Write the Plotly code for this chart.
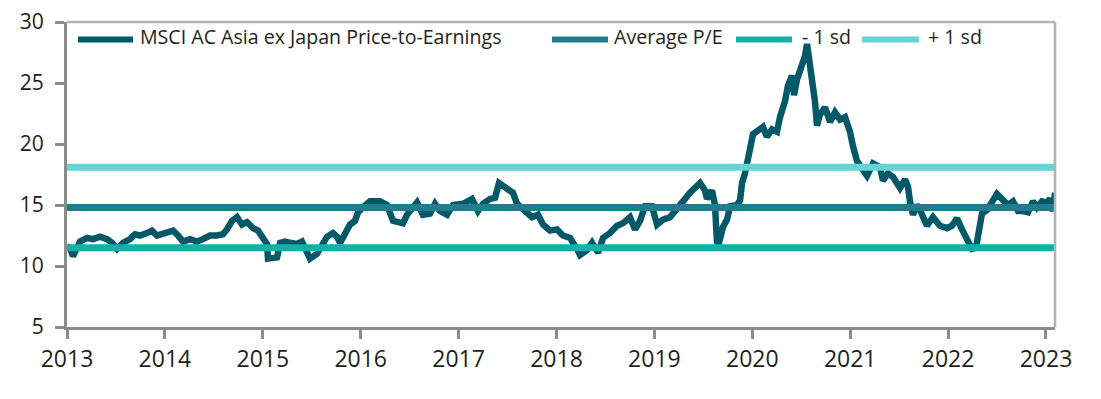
import plotly.graph_objects as go

# Decimal-year positions and P/E values
years = [
    2013.000, 2013.031, 2013.061, 2013.133, 2013.204, 2013.266, 2013.337, 2013.409, 2013.460, 2013.511,
    2013.572, 2013.644, 2013.695, 2013.746, 2013.817, 2013.868, 2013.919, 2013.981, 2014.083, 2014.134,
    2014.185, 2014.256, 2014.328, 2014.389, 2014.461, 2014.532, 2014.593, 2014.634, 2014.685, 2014.736,
    2014.788, 2014.839, 2014.900, 2014.951, 2015.002, 2015.043, 2015.053, 2015.145, 2015.176, 2015.227,
    2015.278, 2015.349, 2015.400, 2015.451, 2015.482, 2015.554, 2015.605, 2015.656, 2015.717, 2015.758,
    2015.789, 2015.840, 2015.891, 2015.942, 2015.972, 2016.023, 2016.095, 2016.197, 2016.269, 2016.330,
    2016.381, 2016.432, 2016.473, 2016.575, 2016.636, 2016.708, 2016.759, 2016.810, 2016.882, 2016.943,
    2017.045, 2017.137, 2017.198, 2017.249, 2017.321, 2017.372, 2017.413, 2017.494, 2017.556, 2017.597,
    2017.658, 2017.750, 2017.811, 2017.862, 2017.934, 2018.005, 2018.066, 2018.138, 2018.209, 2018.240,
    2018.312, 2018.363, 2018.424, 2018.475, 2018.546, 2018.618, 2018.679, 2018.751, 2018.802, 2018.853,
    2018.904, 2018.975, 2019.027, 2019.088, 2019.159, 2019.231, 2019.292, 2019.364, 2019.466, 2019.517,
    2019.537, 2019.588, 2019.619, 2019.639, 2019.660, 2019.701, 2019.742, 2019.773, 2019.844, 2019.875,
    2019.895, 2019.926, 2019.946, 2019.977, 2020.007, 2020.048, 2020.109, 2020.150, 2020.201, 2020.252,
    2020.283, 2020.334, 2020.365, 2020.406, 2020.426, 2020.457, 2020.508, 2020.538, 2020.559, 2020.590,
    2020.610, 2020.640, 2020.661, 2020.691, 2020.743, 2020.794, 2020.845, 2020.896, 2020.947, 2020.998,
    2021.029, 2021.070, 2021.121, 2021.172, 2021.233, 2021.304, 2021.335, 2021.386, 2021.437, 2021.509,
    2021.560, 2021.590, 2021.611, 2021.641, 2021.682, 2021.713, 2021.784, 2021.846, 2021.917, 2021.989,
    2022.040, 2022.091, 2022.142, 2022.193, 2022.244, 2022.285, 2022.316, 2022.346, 2022.397, 2022.459,
    2022.499, 2022.561, 2022.612, 2022.663, 2022.714, 2022.765, 2022.816, 2022.867, 2022.908, 2022.959,
    2023.010, 2023.041, 2023.072, 2023.092,
]
pe = [
    11.6, 11.5, 10.8, 12.0, 12.3, 12.2, 12.4, 12.2, 11.9, 11.4,
    11.9, 12.2, 12.6, 12.5, 12.7, 12.9, 12.5, 12.7, 12.9, 12.5,
    12.0, 12.2, 12.0, 12.2, 12.5, 12.5, 12.6, 13.0, 13.7, 14.0,
    13.4, 13.6, 13.1, 12.9, 12.3, 11.8, 10.6, 10.7, 11.9, 12.0,
    11.9, 11.8, 12.0, 11.0, 10.6, 11.0, 11.6, 12.4, 12.7, 12.4,
    11.9, 12.7, 13.4, 13.7, 14.4, 14.8, 15.3, 15.3, 15.0, 13.7,
    13.6, 13.5, 14.2, 15.2, 14.2, 14.3, 15.1, 14.5, 14.2, 15.0,
    15.1, 15.5, 14.5, 15.1, 15.5, 15.6, 16.8, 16.4, 16.0, 15.1,
    14.6, 14.0, 14.2, 13.4, 12.9, 13.0, 12.5, 12.3, 11.4, 10.9,
    11.3, 11.9, 11.1, 12.3, 12.7, 13.3, 13.5, 14.0, 13.0, 13.7,
    14.9, 14.9, 13.4, 13.8, 14.0, 14.6, 15.3, 16.0, 16.8, 16.2,
    15.5, 16.2, 15.0, 12.0, 11.9, 13.2, 13.8, 14.9, 15.0, 15.4,
    16.8, 17.6, 18.7, 19.6, 20.8, 21.0, 21.4, 20.6, 21.2, 21.0,
    22.2, 23.5, 24.8, 25.6, 24.0, 25.3, 26.6, 27.2, 28.2, 26.5,
    24.5, 23.5, 21.5, 22.4, 23.0, 21.8, 22.6, 22.0, 22.2, 21.0,
    19.8, 18.6, 18.0, 17.4, 18.4, 18.1, 17.0, 17.6, 17.3, 16.4,
    17.1, 16.5, 15.3, 14.2, 15.0, 14.6, 13.3, 14.0, 13.3, 13.1,
    13.3, 13.9, 13.0, 12.1, 11.4, 11.5, 13.0, 14.3, 14.6, 15.3,
    15.9, 15.4, 15.0, 15.3, 14.5, 14.5, 14.4, 15.3, 14.8, 15.3,
    15.2, 15.5, 14.5, 16.0,
]

x_start, x_end = 2013.0, 2023.092
avg_pe = 14.8
minus_1sd = 11.5
plus_1sd = 18.1

tick_years = list(range(2013, 2024))
y_ticks = [5, 10, 15, 20, 25, 30]

series_names = ["MSCI AC Asia ex Japan Price-to-Earnings", "Average P/E", "- 1 sd", "+ 1 sd"]
colors = ["#045868", "#237b8e", "#13b0a6", "#66d3d5"]

fig = go.Figure()
fig.add_trace(go.Scatter(x=years, y=pe, mode="lines", name=series_names[0],
                         line=dict(color=colors[0], width=6.5), showlegend=False))
for name, level, col in zip(series_names[1:], [avg_pe, minus_1sd, plus_1sd], colors[1:]):
    fig.add_trace(go.Scatter(x=[x_start, x_end], y=[level, level], mode="lines", name=name,
                             line=dict(color=col, width=7), showlegend=False))

axis_col = "#8c8c8c"
font_col = "#231f20"

# legend drawn in paper coordinates (sample line start/end, text start)
legend_line_x0 = [0.0111, 0.4909, 0.6771, 0.8047]
legend_line_x1 = [0.0668, 0.5476, 0.7338, 0.8623]
legend_text_x = [0.0719, 0.5516, 0.7419, 0.8694]
legend_y = 0.943

shapes = [
    dict(type="line", xref="paper", yref="paper", x0=0, x1=1, y0=1, y1=1,
         line=dict(color="#b3b3b3", width=2.5)),
    dict(type="line", xref="paper", yref="paper", x0=1, x1=1, y0=0, y1=1,
         line=dict(color="#b3b3b3", width=2.5)),
]
annotations = []
for name, col, lx0, lx1, tx in zip(series_names, colors, legend_line_x0, legend_line_x1, legend_text_x):
    shapes.append(dict(type="line", xref="paper", yref="paper", x0=lx0, x1=lx1,
                       y0=legend_y, y1=legend_y, line=dict(color=col, width=6), layer="above"))
    annotations.append(dict(xref="paper", yref="paper", x=tx, y=legend_y + 0.008, text=name,
                            showarrow=False, xanchor="left", yanchor="middle",
                            font=dict(family="Open Sans", size=19.6, color=font_col)))

fig.update_layout(
    width=1101, height=399,
    margin=dict(l=67, r=46, t=22, b=72, autoexpand=False),
    paper_bgcolor="white", plot_bgcolor="white",
    font=dict(family="Open Sans", color=font_col, size=21),
    showlegend=False,
    hovermode=False,
    xaxis=dict(range=[x_start, x_end], tickmode="array", tickvals=tick_years,
               ticktext=[str(t) for t in tick_years], automargin=False,
               showgrid=False, zeroline=False, showline=True, linecolor=axis_col, linewidth=3,
               ticks="outside", ticklen=9, tickwidth=3, tickcolor=axis_col,
               ticklabelstandoff=0,
               tickfont=dict(size=23, color=font_col)),
    yaxis=dict(range=[5, 30], tickmode="array", tickvals=y_ticks, automargin=False,
               showgrid=False, zeroline=False, showline=True, linecolor=axis_col, linewidth=3,
               ticks="outside", ticklen=9, tickwidth=3, tickcolor=axis_col,
               ticklabelstandoff=7,
               tickfont=dict(size=21, color=font_col)),
    shapes=shapes,
    annotations=annotations,
)

fig.write_html("out.html", config={"displayModeBar": False, "staticPlot": True},
               post_script="document.body.style.margin='0';")
